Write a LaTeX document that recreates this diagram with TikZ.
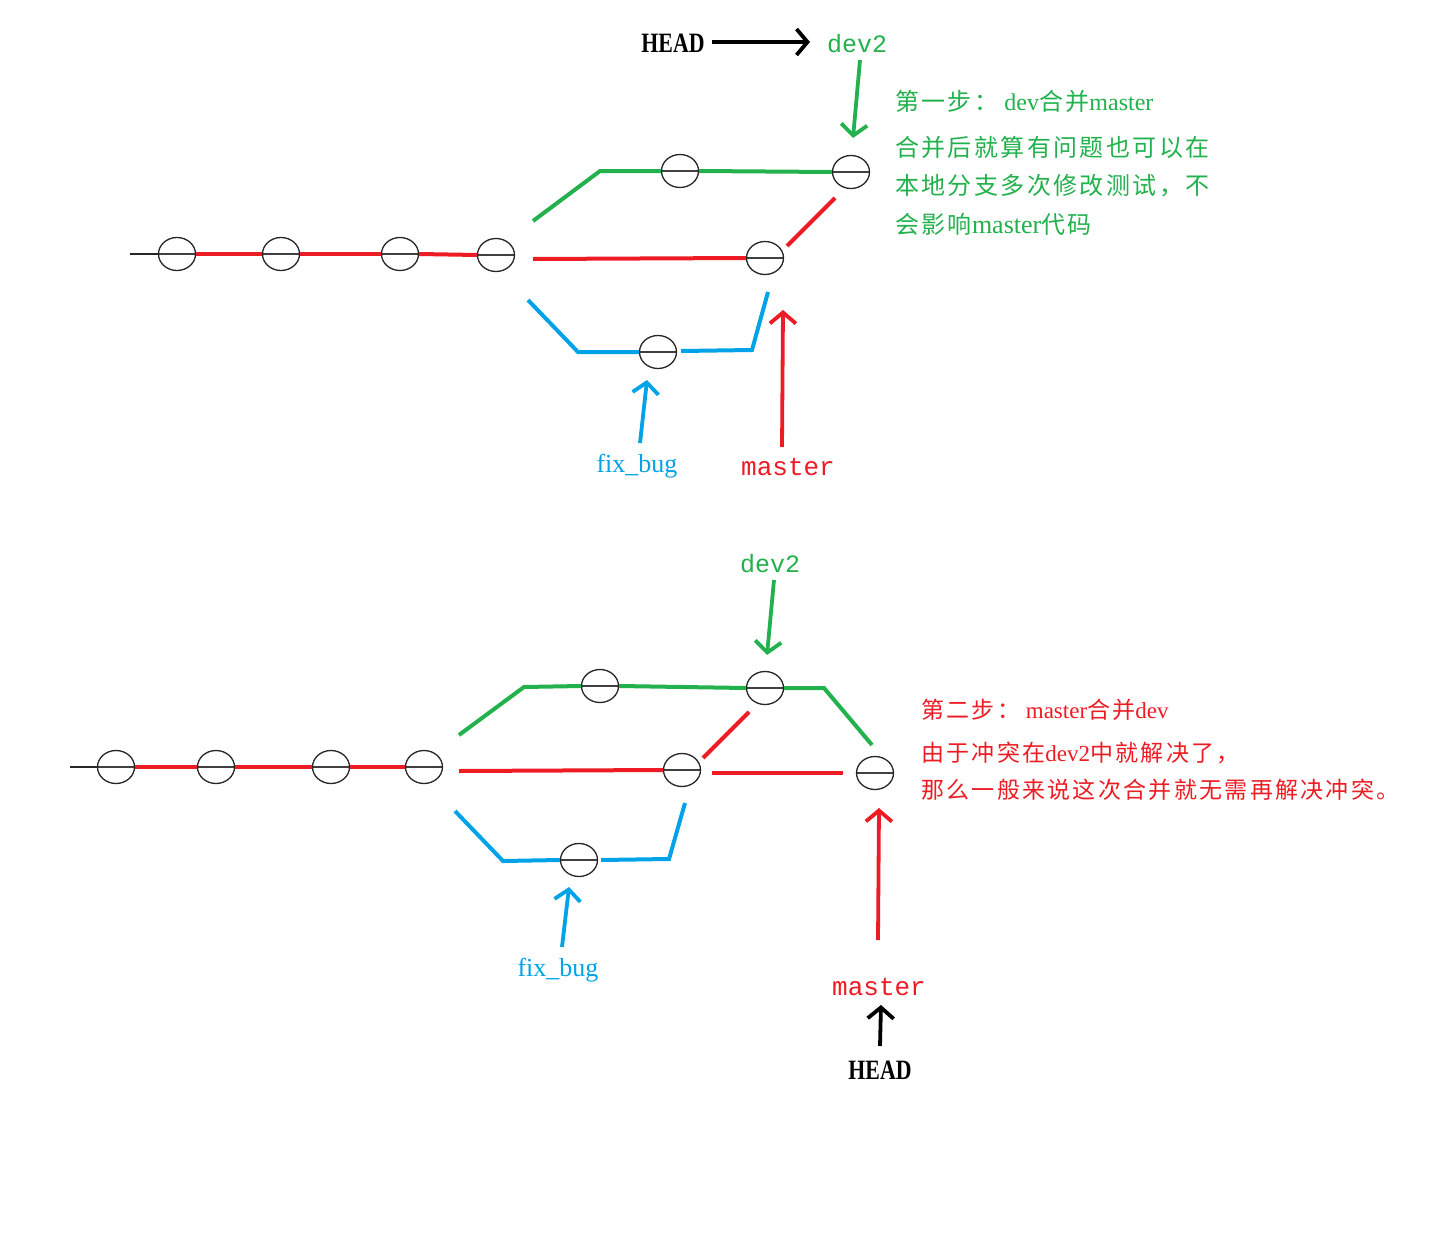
\documentclass[tikz,border=0pt]{standalone}
\usepackage{fontspec}
\setmainfont{Liberation Serif}
\newfontfamily\cjk[LetterSpace=10]{Noto Sans CJK SC}
\newfontfamily\monof{Liberation Mono}
\usetikzlibrary{shapes.geometric,arrows.meta}
\definecolor{pgreen}{RGB}{34,177,76}
\definecolor{pred}{RGB}{237,28,36}
\definecolor{pblue}{RGB}{0,162,232}
\tikzset{
  commit/.style={draw=black!85, ellipse, minimum width=37pt, minimum height=33pt, inner sep=0pt, line width=1.3pt,
    path picture={\draw[black!75, line width=1.6pt] (path picture bounding box.west) -- (path picture bounding box.east);}},
  gline/.style={pgreen, line width=4pt},
  rline/.style={pred, line width=4pt},
  bline/.style={pblue, line width=4pt},
  tailline/.style={black!85, line width=1.5pt},
  ptr/.style={line width=3.8pt, -{Straight Barb[length=11pt,width=26pt]}},
  headlbl/.style={font=\fontsize{28}{30}\selectfont\bfseries, inner sep=0pt},
  monolbl/.style={font=\monof\fontsize{25}{28}\selectfont, inner sep=0pt},
  serlbl/.style={font=\fontsize{26}{28}\selectfont, inner sep=0pt},
  note/.style={anchor=west, inner sep=0pt},
}
\begin{document}
\begin{tikzpicture}[x=1pt, y=-1pt]
\useasboundingbox (0,0) rectangle (1456,1255);
\fill[white] (0,0) rectangle (1456,1255);

% ================= top diagram =================
\coordinate (t0) at (130,254);
\node[commit] (ta1) at (177,254) {};
\node[commit] (ta2) at (281,254) {};
\node[commit] (ta3) at (400,254) {};
\node[commit] (ta4) at (496,255) {};
\draw[tailline] (t0) -- (ta1.west);
\draw[rline] (ta1.east) -- (ta2.west);
\draw[rline] (ta2.east) -- (ta3.west);
\draw[rline] (ta3.east) -- (ta4.west);

% green branch
\coordinate (tg0) at (533,221);
\coordinate (tg1) at (600,171);
\node[commit] (tg2) at (680,171) {};
\node[commit] (tg3) at (851,172) {};
\draw[gline] (tg0) -- (tg1) -- (tg2.west);
\draw[gline] (tg2.east) -- (tg3.west);

% red master
\coordinate (tr0) at (533,259);
\node[commit] (tr1) at (765,258) {};
\draw[rline] (tr0) -- (tr1.west);
\coordinate (tr2) at (787,246);
\coordinate (tr3) at (835,198);
\draw[rline] (tr2) -- (tr3);

% blue fix_bug
\coordinate (tb0) at (528,300);
\coordinate (tb1) at (578,352);
\node[commit] (tb2) at (658,352) {};
\coordinate (tb3) at (681,351);
\coordinate (tb4) at (752,350);
\coordinate (tb5) at (768,292);
\draw[bline] (tb0) -- (tb1) -- (tb2.west);
\draw[bline] (tb3) -- (tb4) -- (tb5);

% labels and pointers
\node[headlbl] (thead) at (673,43) {\scalebox{0.78}[1]{HEAD}};
\node[monolbl, text=pgreen] (tdev) at (857,44) {dev2};
\coordinate (thA) at (712,42);
\coordinate (thB) at (810,42);
\draw[ptr, black] (thA) -- (thB);
\coordinate (tdA) at (860,60);
\coordinate (tdB) at (853,138);
\draw[ptr, pgreen] (tdA) -- (tdB);

\node[serlbl, text=pblue] (tfix) at (637,466) {fix\_bug};
\node[monolbl, text=pred, font=\monof\fontsize{26}{28}\selectfont] (tmas) at (788,467) {master};
\coordinate (tfA) at (640,443);
\coordinate (tfB) at (647,380);
\draw[ptr, pblue] (tfA) -- (tfB);
\coordinate (tmA) at (782,447);
\coordinate (tmB) at (783,310);
\draw[ptr, pred] (tmA) -- (tmB);

% green note
\begin{scope}[text=pgreen]
\node[note] (tn1) at (895,101) {\fontsize{24}{26}\selectfont{\cjk 第一步：}\ dev{\cjk 合并}master};
\node[note] (tn2) at (895,147) {\fontsize{24}{26}\selectfont\cjk 合并后就算有问题也可以在};
\node[note] (tn3) at (895,186) {\fontsize{24}{26}\selectfont\cjk 本地分支多次修改测试，不};
\node[note] (tn4) at (895,224) {\fontsize{24}{26}\selectfont{\cjk 会影响}\fontsize{26}{26}\selectfont master{\fontsize{24}{26}\selectfont\cjk 代码}};
\end{scope}

% ================= bottom diagram =================
\coordinate (b0) at (70,767);
\node[commit] (ba1) at (116,767) {};
\node[commit] (ba2) at (216,767) {};
\node[commit] (ba3) at (331,767) {};
\node[commit] (ba4) at (424,767) {};
\draw[tailline] (b0) -- (ba1.west);
\draw[rline] (ba1.east) -- (ba2.west);
\draw[rline] (ba2.east) -- (ba3.west);
\draw[rline] (ba3.east) -- (ba4.west);

% green branch
\coordinate (bg0) at (459,735);
\coordinate (bg1) at (524,687);
\node[commit] (bg2) at (600,686) {};
\node[commit] (bg3) at (765,688) {};
\coordinate (bg4) at (824,688);
\coordinate (bg5) at (872,745);
\draw[gline] (bg0) -- (bg1) -- (bg2.west);
\draw[gline] (bg2.east) -- (bg3.west);
\draw[gline] (bg3.east) -- (bg4) -- (bg5);

% red master
\coordinate (br0) at (459,771);
\node[commit] (br1) at (682,770) {};
\draw[rline] (br0) -- (br1.west);
\coordinate (br2) at (703,758);
\coordinate (br3) at (749,712);
\draw[rline] (br2) -- (br3);
\coordinate (br4) at (712,773);
\coordinate (br5) at (843,773);
\node[commit] (br6) at (875,773) {};
\draw[rline] (br4) -- (br5);

% blue fix_bug
\coordinate (bb0) at (455,811);
\coordinate (bb1) at (503,861);
\node[commit] (bb2) at (579,860) {};
\coordinate (bb3) at (601,860);
\coordinate (bb4) at (669,859);
\coordinate (bb5) at (685,803);
\draw[bline] (bb0) -- (bb1) -- (bb2.west);
\draw[bline] (bb3) -- (bb4) -- (bb5);

% labels and pointers
\node[monolbl, text=pgreen] (bdev) at (770,564) {dev2};
\coordinate (bdA) at (774,580);
\coordinate (bdB) at (767,655);
\draw[ptr, pgreen] (bdA) -- (bdB);

\node[serlbl, text=pblue] (bfix) at (558,970) {fix\_bug};
\coordinate (bfA) at (562,947);
\coordinate (bfB) at (569,887);
\draw[ptr, pblue] (bfA) -- (bfB);

\node[monolbl, text=pred, font=\monof\fontsize{26}{28}\selectfont] (bmas) at (879,987) {master};
\coordinate (bmA) at (878,940);
\coordinate (bmB) at (879,808);
\draw[ptr, pred] (bmA) -- (bmB);

\node[headlbl] (bhead) at (880,1070) {\scalebox{0.78}[1]{HEAD}};
\coordinate (bhA) at (880,1046);
\coordinate (bhB) at (881,1005);
\draw[ptr, black] (bhA) -- (bhB);

% red note
\begin{scope}[text=pred]
\node[note] (bn1) at (921,710) {\fontsize{23}{26}\selectfont{\cjk 第二步：}\ master{\cjk 合并}dev};
\node[note] (bn2) at (921,753) {\fontsize{23}{26}\selectfont{\cjk 由于冲突在}dev2{\cjk 中就解决了，}};
\node[note] (bn3) at (921,790) {\fontsize{23}{26}\selectfont\cjk 那么一般来说这次合并就无需再解决冲突。};
\end{scope}
\end{tikzpicture}
\end{document}
